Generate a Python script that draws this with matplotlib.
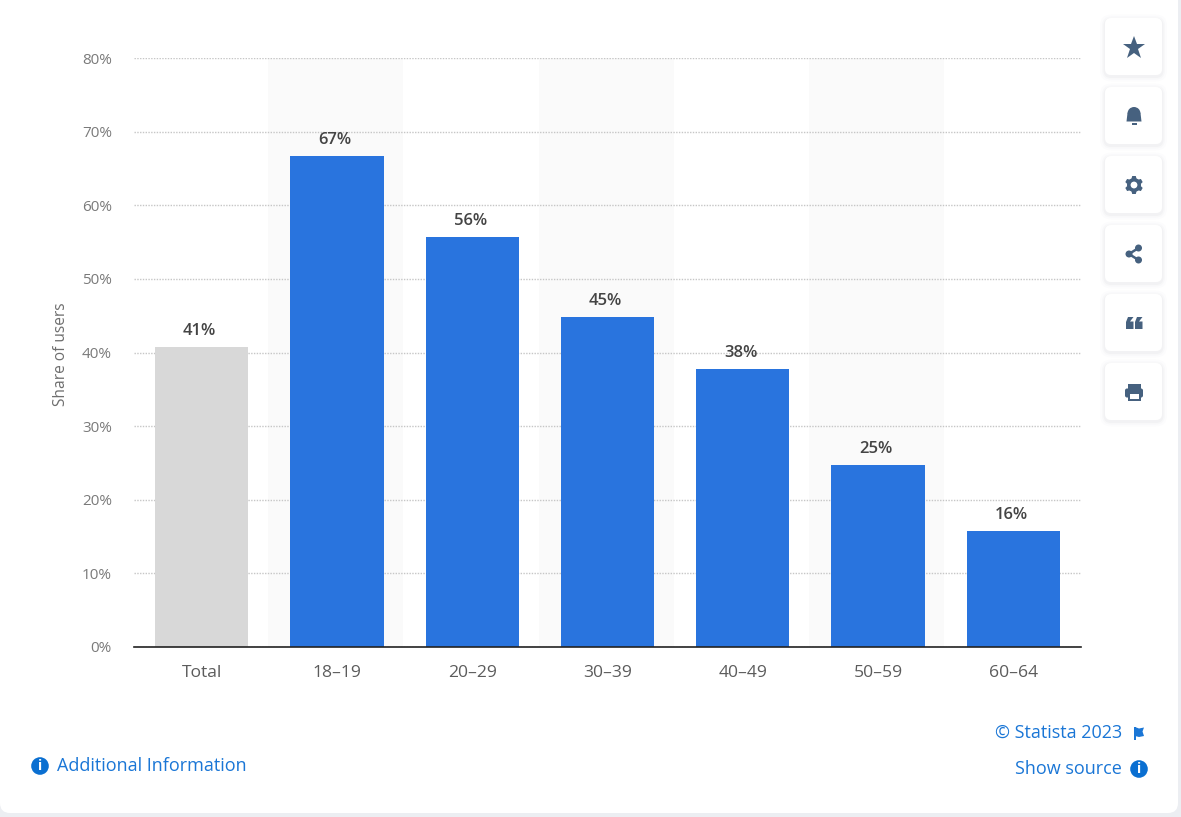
import matplotlib
matplotlib.use('Agg')
import numpy as np
import matplotlib.pyplot as plt
from matplotlib.patches import FancyBboxPatch, Circle, Rectangle, Polygon, Wedge

plt.rcParams['font.family'] = ['Open Sans', 'DejaVu Sans']

categories = ['Total', '18-19', '20-29', '30-39', '40-49', '50-59', '60-64']
shares = [40.8, 66.7, 55.7, 44.8, 37.7, 24.7, 15.8]
y_ticks = [0, 10, 20, 30, 40, 50, 60, 70, 80]

BLUE = '#2974de'
GREY = '#d8d8d8'
LINK = '#1a76d6'
ICON = '#46617f'

W, H = 1181, 817
fig = plt.figure(figsize=(W / 100, H / 100), dpi=100, facecolor='#eceef2')

# page layer in pixel coordinates, top-left origin
page = fig.add_axes([0, 0, 1, 1], zorder=0)
page.set_xlim(0, W)
page.set_ylim(H, 0)
page.axis('off')
page.add_patch(FancyBboxPatch((0, -20), W - 3, H - 4 + 20,
                              boxstyle='round,pad=0,rounding_size=10',
                              fc='white', ec='none'))

# chart
ax = fig.add_axes([134 / W, 1 - 647 / H, 947 / W, 589 / H], zorder=1)
ax.patch.set_alpha(0)
x = list(range(len(categories)))
for i in x:
    if i % 2 == 1:
        ax.axvspan(i - 0.51, i + 0.49, color='#fafafa', lw=0, zorder=0)
colors = [GREY] + [BLUE] * (len(categories) - 1)
ax.bar(x, shares, width=0.69, color=colors, zorder=3)
for i, v in zip(x, shares):
    ax.annotate(f'{round(v)}%', (i, v), xytext=(-2, 8), textcoords='offset pixels',
                ha='center', va='bottom', fontsize=12, fontweight='semibold', color='#444444', zorder=4)
ax.set_xlim(-0.5, len(categories) - 0.5)
ax.set_ylim(0, 80)
ax.set_yticks(y_ticks)
ax.set_yticklabels([f'{t}%' for t in y_ticks], fontsize=11, color='#7a7a7a')
ax.set_xticks(x)
ax.set_xticklabels([c.replace('-', '\u2013') for c in categories], fontsize=12.6, color='#5c5c5c')
ax.tick_params(axis='both', length=0)
ax.tick_params(axis='y', pad=16)
ax.tick_params(axis='x', pad=13)
ax.grid(axis='y', color='#c6c6c6', linestyle=(0, (1, 1)), linewidth=1, zorder=1)
for s in ['top', 'right', 'left']:
    ax.spines[s].set_visible(False)
ax.spines['bottom'].set_color('#222222')
ax.spines['bottom'].set_linewidth(1.2)
ax.spines['bottom'].set_zorder(5)
page.text(61, 354, 'Share of users', rotation=90, ha='center', va='center', fontsize=11.2, color='#6e6e6e')

# footer links
page.text(57, 766, 'Additional Information', ha='left', va='center', fontsize=13, color=LINK)
page.text(1122, 733, '\u00a9 Statista 2023', ha='right', va='center', fontsize=13, color=LINK)
page.text(1122, 769, 'Show source', ha='right', va='center', fontsize=13, color=LINK)


def info_icon(cx, cy):
    page.add_patch(Circle((cx, cy), 8.8, fc='#0a6fd1', ec='none'))
    page.text(cx, cy, 'i', ha='center', va='center', fontsize=10, fontweight='bold', color='white')


info_icon(40, 766)
info_icon(1139, 769)
page.add_patch(Rectangle((1134, 727), 2, 13, fc=LINK, ec='none'))
page.add_patch(Polygon([(1135, 727), (1139, 728.5), (1144, 727.5), (1142.5, 731.5), (1144, 736), (1139, 737), (1135, 736)],
                       fc=LINK, ec='none'))

# side buttons
tops = [18, 87, 156, 225, 294, 363]
for t in tops:
    for grow, a in [(5, 0.012), (3, 0.02), (1.5, 0.03)]:
        page.add_patch(FancyBboxPatch((1105 - grow, t - grow + 1.5), 57 + 2 * grow, 57 + 2 * grow,
                                      boxstyle=f'round,pad=0,rounding_size={6 + grow}',
                                      fc='#3a4a60', alpha=a, ec='none'))
    page.add_patch(FancyBboxPatch((1105, t), 57, 57, boxstyle='round,pad=0,rounding_size=6',
                                  fc='white', ec='none'))
cx = 1134
cys = [t + 29 for t in tops]

# star
page.plot([cx], [cys[0] + 0.5], marker='*', ms=17, color=ICON, mew=0)
# bell
c = cys[1]
page.add_patch(Wedge((cx, c - 2.5), 6.5, 180, 360, fc=ICON, ec='none'))
page.add_patch(Polygon([(cx - 6.5, c - 3), (cx + 6.5, c - 3), (cx + 7.5, c + 5.5), (cx - 7.5, c + 5.5)], fc=ICON, ec='none'))
page.add_patch(Rectangle((cx - 2.5, c + 7), 5, 1.6, fc=ICON, ec='none'))
# cog
c = cys[2]
page.add_patch(Circle((cx, c), 7, fc=ICON, ec='none'))
for ang in np.arange(0, 360, 60):
    a = np.radians(ang + 30)
    ux, uy = np.cos(a), np.sin(a)
    vx, vy = -uy, ux
    page.add_patch(Polygon([(cx + 6 * ux + 2.6 * vx, c + 6 * uy + 2.6 * vy),
                            (cx + 9 * ux + 1.8 * vx, c + 9 * uy + 1.8 * vy),
                            (cx + 9 * ux - 1.8 * vx, c + 9 * uy - 1.8 * vy),
                            (cx + 6 * ux - 2.6 * vx, c + 6 * uy - 2.6 * vy)], fc=ICON, ec='none'))
page.add_patch(Circle((cx, c), 3.4, fc='white', ec='none', zorder=2))
# share
c = cys[3]
pts = [(cx + 4.5, c - 6), (cx - 5, c), (cx + 4.5, c + 6)]
page.plot([p[0] for p in pts], [p[1] for p in pts], color=ICON, lw=1.8, zorder=1)
for p in pts:
    page.add_patch(Circle(p, 3.5, fc=ICON, ec='none', zorder=2))
# quote
c = cys[4]
for dx in [-8, 1]:
    page.add_patch(Polygon([(cx + dx, c - 1), (cx + dx + 2, c - 6), (cx + dx + 7.5, c - 6), (cx + dx + 4, c - 1.5),
                            (cx + dx + 7.5, c - 1.5), (cx + dx + 7.5, c + 6), (cx + dx, c + 6)], fc=ICON, ec='none'))
# print
c = cys[5]
page.add_patch(FancyBboxPatch((cx - 9, c - 3.5), 18, 9, boxstyle='round,pad=0,rounding_size=2', fc=ICON, ec='none'))
page.add_patch(Rectangle((cx - 6.5, c - 8.5), 13, 5, fc=ICON, ec='none'))
page.add_patch(Rectangle((cx - 6.5, c + 1), 13, 8, fc=ICON, ec='none'))
page.add_patch(Rectangle((cx - 4.5, c + 2), 9, 5, fc='white', ec='none'))

fig.savefig('out.png', dpi=100, facecolor=fig.get_facecolor())
